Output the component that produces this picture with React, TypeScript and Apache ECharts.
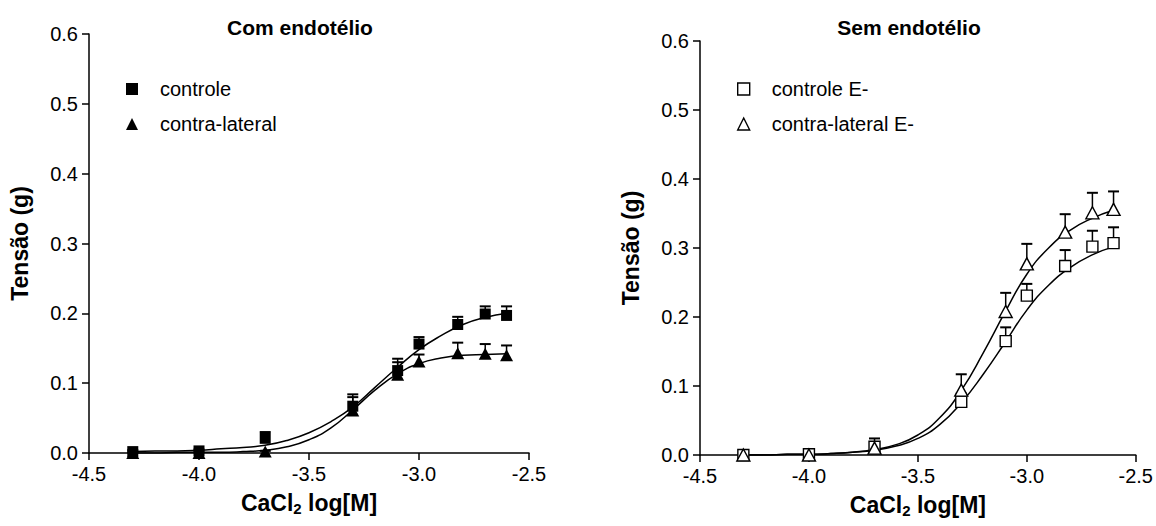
import React, { useEffect, useRef } from "react";
import * as echarts from "echarts";

// log[CaCl2] concentrations (M)
const doses = [-4.301, -4.0, -3.699, -3.301, -3.097, -3.0, -2.824, -2.699, -2.602];

// With endothelium: mean tension (g) and SEM
const controleMean = [0.002, 0.003, 0.021, 0.067, 0.118, 0.156, 0.184, 0.199, 0.197];
const controleSem = [0.002, 0.002, 0.009, 0.017, 0.017, 0.01, 0.011, 0.011, 0.013];
const contraMean = [0.0, 0.0, 0.002, 0.061, 0.112, 0.131, 0.143, 0.142, 0.14];
const contraSem = [0.001, 0.001, 0.001, 0.019, 0.018, 0.01, 0.015, 0.014, 0.014];

// Without endothelium: mean tension (g) and SEM
const controleEMean = [0.0, 0.001, 0.012, 0.077, 0.165, 0.231, 0.274, 0.302, 0.307];
const controleESem = [0.002, 0.002, 0.012, 0.012, 0.02, 0.017, 0.023, 0.023, 0.023];
const contraEMean = [0.0, 0.0, 0.01, 0.094, 0.208, 0.277, 0.323, 0.351, 0.356];
const contraESem = [0.001, 0.001, 0.008, 0.023, 0.027, 0.029, 0.026, 0.029, 0.026];

// Sigmoidal fit curves, sampled every 0.1 log unit
const fitX = [-4.3, -4.2, -4.1, -4.0, -3.9, -3.8, -3.7, -3.6, -3.5, -3.4, -3.3, -3.2, -3.1, -3.0, -2.9, -2.8, -2.7, -2.6];
const fitControle = [0.002, 0.003, 0.003, 0.004, 0.006, 0.008, 0.011, 0.018, 0.029, 0.045, 0.066, 0.094, 0.122, 0.148, 0.168, 0.184, 0.194, 0.2];
const fitContra = [0.0, 0.0, 0.001, 0.001, 0.001, 0.002, 0.004, 0.009, 0.019, 0.036, 0.062, 0.09, 0.113, 0.128, 0.136, 0.14, 0.141, 0.142];
const fitControleE = [0.0, 0.0, 0.001, 0.001, 0.002, 0.004, 0.007, 0.013, 0.024, 0.044, 0.076, 0.117, 0.163, 0.21, 0.246, 0.272, 0.29, 0.302];
const fitContraE = [0.0, 0.0, 0.001, 0.001, 0.002, 0.004, 0.008, 0.015, 0.029, 0.054, 0.094, 0.148, 0.207, 0.262, 0.3, 0.326, 0.343, 0.355];

const yTicks = [0, 0.1, 0.2, 0.3, 0.4, 0.5, 0.6];
const xTicks = [-4.5, -4.0, -3.5, -3.0, -2.5];

const FONT = "'Liberation Sans', Arial, sans-serif";

const pairs = (xs: number[], ys: number[]) => xs.map((x, i) => [x, ys[i]]);
const triples = (xs: number[], ys: number[], es: number[]) => xs.map((x, i) => [x, ys[i], es[i]]);

function errorBars(params: any, api: any) {
  const x = api.value(0);
  const y = api.value(1);
  const e = api.value(2);
  const a = api.coord([x, y]);
  const b = api.coord([x, y + e]);
  return {
    type: "group",
    children: [
      { type: "line", shape: { x1: a[0], y1: a[1], x2: b[0], y2: b[1] }, style: { stroke: "#000", lineWidth: 1.5 } },
      { type: "line", shape: { x1: b[0] - 5.5, y1: b[1], x2: b[0] + 5.5, y2: b[1] }, style: { stroke: "#000", lineWidth: 2 } },
    ],
  };
}

function xAxis(gridIndex: number) {
  return {
    type: "value",
    gridIndex,
    min: xTicks[0],
    max: xTicks[xTicks.length - 1],
    interval: 0.5,
    axisLine: { show: true, onZero: false, lineStyle: { color: "#000", width: 1.5 } },
    axisTick: { show: true, length: 7, lineStyle: { color: "#000", width: 1.5 } },
    axisLabel: { formatter: (v: number) => v.toFixed(1), fontSize: 20, color: "#000", fontFamily: FONT, margin: 11 },
    splitLine: { show: false },
    name: "{a|CaCl}{s|2}{a| log[M]}",
    nameLocation: "middle",
    nameGap: 37,
    nameTextStyle: {
      rich: {
        a: { fontSize: 23, fontWeight: "bold", fontFamily: FONT, color: "#000" },
        s: { fontSize: 15, fontWeight: "bold", fontFamily: FONT, color: "#000", padding: [11, 0, 0, 0] },
      },
    },
  };
}

function yAxis(gridIndex: number) {
  return {
    type: "value",
    gridIndex,
    min: yTicks[0],
    max: yTicks[yTicks.length - 1],
    interval: 0.1,
    axisLine: { show: true, onZero: false, lineStyle: { color: "#000", width: 1.5 } },
    axisTick: { show: true, length: 7, lineStyle: { color: "#000", width: 1.5 } },
    axisLabel: { formatter: (v: number) => v.toFixed(1), fontSize: 20, color: "#000", fontFamily: FONT, margin: 11 },
    splitLine: { show: false },
    name: "Tensão (g)",
    nameLocation: "middle",
    nameGap: 58,
    nameTextStyle: { fontSize: 23, fontWeight: "bold", fontFamily: FONT, color: "#000" },
  };
}

const solid = { color: "#000", opacity: 1 };
const open = { color: "#fff", borderColor: "#000", borderWidth: 1.4, opacity: 1 };

function fitLine(xi: number, ys: number[]) {
  return {
    type: "line",
    xAxisIndex: xi,
    yAxisIndex: xi,
    data: pairs(fitX, ys),
    smooth: 0.5,
    showSymbol: false,
    symbol: "none",
    lineStyle: { color: "#000", width: 1.5 },
    z: 2,
    silent: true,
  };
}

function bars(xi: number, m: number[], s: number[]) {
  return {
    type: "custom",
    xAxisIndex: xi,
    yAxisIndex: xi,
    renderItem: errorBars,
    data: triples(doses, m, s),
    encode: { x: 0, y: 1 },
    z: 3,
    silent: true,
  };
}

function points(xi: number, name: string, m: number[], symbol: string, size: any, style: any) {
  return {
    type: "scatter",
    name,
    xAxisIndex: xi,
    yAxisIndex: xi,
    data: pairs(doses, m),
    symbol,
    symbolSize: size,
    itemStyle: style,
    emphasis: { disabled: true },
    z: 4,
  };
}

function legend(left: number, items: any[]) {
  return {
    orient: "vertical",
    left,
    top: 73,
    itemWidth: 12,
    itemHeight: 12,
    itemGap: 13,
    selectedMode: false,
    data: items,
    textStyle: { fontSize: 20, fontFamily: FONT, color: "#000", lineHeight: 22, padding: [0, 0, 0, 17] },
  };
}

export default function App() {
  const ref = useRef<HTMLDivElement>(null);

  useEffect(() => {
    document.body.style.margin = "0";
    const chart = echarts.init(ref.current!, null, { renderer: "svg" });
    chart.setOption({
      animation: false,
      backgroundColor: "#fff",
      grid: [
        { left: 89, top: 34, width: 440, height: 419 },
        { left: 700, top: 41, width: 438, height: 414 },
      ],
      xAxis: [xAxis(0), xAxis(1)],
      yAxis: [yAxis(0), yAxis(1)],
      legend: [
        legend(121, [
          { name: "controle", icon: "rect", itemStyle: solid },
          { name: "contra-lateral", icon: "triangle", itemStyle: solid },
        ]),
        legend(732, [
          { name: "controle E-", icon: "rect", itemStyle: open },
          { name: "contra-lateral E-", icon: "triangle", itemStyle: open },
        ]),
      ],
      graphic: [
        {
          type: "text",
          x: 300,
          y: 27,
          style: { text: "Com endotélio", font: `bold 21px ${FONT}`, fill: "#000", textAlign: "center", textVerticalAlign: "middle" },
        },
        {
          type: "text",
          x: 909,
          y: 27,
          style: { text: "Sem endotélio", font: `bold 21px ${FONT}`, fill: "#000", textAlign: "center", textVerticalAlign: "middle" },
        },
      ],
      series: [
        fitLine(0, fitControle),
        fitLine(0, fitContra),
        bars(0, controleMean, controleSem),
        bars(0, contraMean, contraSem),
        points(0, "controle", controleMean, "rect", 11, solid),
        points(0, "contra-lateral", contraMean, "triangle", [13, 12], solid),
        fitLine(1, fitControleE),
        fitLine(1, fitContraE),
        bars(1, controleEMean, controleESem),
        bars(1, contraEMean, contraESem),
        points(1, "controle E-", controleEMean, "rect", 11, open),
        points(1, "contra-lateral E-", contraEMean, "triangle", [13, 12], open),
      ],
    });
    return () => chart.dispose();
  }, []);

  return <div ref={ref} style={{ width: 1156, height: 526 }} />;
}
